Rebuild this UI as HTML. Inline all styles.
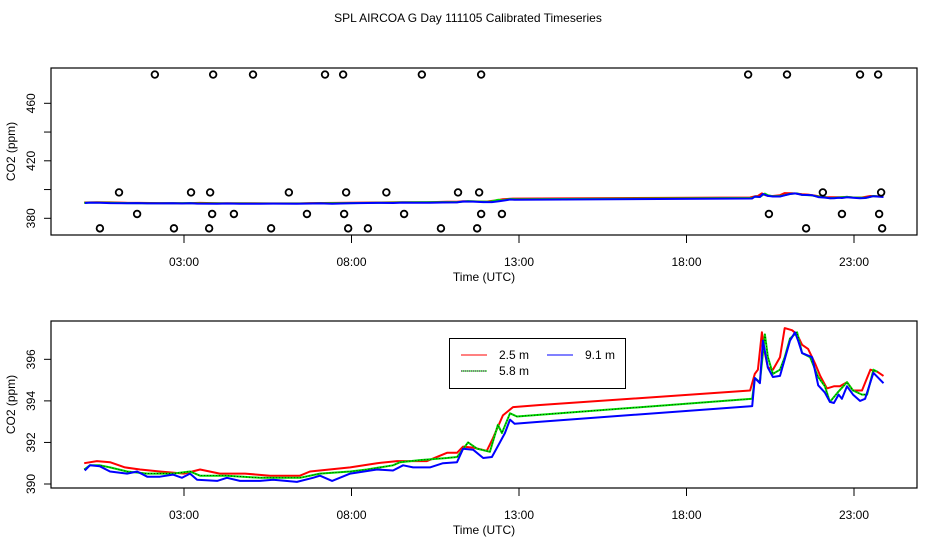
<!DOCTYPE html>
<html><head><meta charset="utf-8"><style>
body{margin:0;background:#fff}
svg{display:block;font-family:"Liberation Sans",sans-serif}
</style></head><body>
<svg id="c" width="936" height="540" viewBox="0 0 936 540">
<text x="468" y="22" text-anchor="middle" font-size="12">SPL AIRCOA G  Day 111105  Calibrated Timeseries</text>
<g id="top"></g>
<g id="bot"></g>
</svg>
<script>
const tickHours=[3,8,13,18,23];
const tickLabels=["03:00","08:00","13:00","18:00","23:00"];
const topTicks=[380,400,420,440,460];
const topTickLabels=["380","","420","","460"];
const botTicks=[390,392,394,396];
const botTickLabels=["390","392","394","396"];
const redT=[0.02,0.40,0.79,1.24,1.69,2.28,3.00,3.48,4.07,4.82,5.57,6.16,6.46,6.76,7.96,8.76,9.36,10.25,10.85,11.15,11.33,11.63,12.04,12.22,12.52,12.82,13.63,19.90,20.04,20.13,20.25,20.34,20.43,20.58,20.79,20.93,21.15,21.30,21.45,21.63,21.84,21.99,22.19,22.40,22.58,22.79,22.97,23.24,23.49,23.70,23.88];
const redV=[391.0,391.1,391.05,390.8,390.7,390.6,390.5,390.7,390.5,390.5,390.4,390.4,390.4,390.6,390.8,391.0,391.1,391.1,391.5,391.5,391.8,391.75,391.6,392.2,393.3,393.7,393.8,394.5,395.3,395.5,397.3,396.3,395.6,395.5,396.1,397.5,397.4,397.2,396.7,396.5,395.8,395.2,394.6,394.7,394.7,394.9,394.5,394.5,395.5,395.4,395.2];
const greenT=[0.02,0.19,0.49,0.79,1.30,1.90,2.67,3.18,3.48,4.28,5.27,5.66,6.46,7.06,7.96,8.46,9.24,9.45,10.04,10.85,11.15,11.48,11.75,12.13,12.37,12.49,12.73,12.94,19.96,20.04,20.19,20.34,20.43,20.58,20.79,20.93,21.09,21.30,21.45,21.69,21.93,22.13,22.28,22.51,22.79,22.97,23.24,23.39,23.58,23.70];
const greenV=[390.7,390.9,390.9,390.8,390.6,390.5,390.5,390.6,390.4,390.4,390.3,390.3,390.3,390.5,390.6,390.7,390.9,391.05,391.15,391.25,391.3,392.0,391.7,391.55,392.85,392.45,393.4,393.25,394.1,395.1,394.9,397.2,396.1,395.3,395.5,396.1,397.0,397.3,396.3,396.1,395.15,394.7,393.95,394.4,394.9,394.5,394.3,394.3,395.5,395.4];
const blueT=[0.04,0.19,0.49,0.79,1.30,1.60,1.90,2.28,2.67,2.94,3.18,3.39,3.99,4.28,4.67,5.27,5.66,6.37,6.85,7.06,7.42,7.96,8.76,9.24,9.54,9.84,10.34,10.73,11.15,11.33,11.63,11.93,12.19,12.43,12.58,12.73,12.87,13.63,19.96,20.04,20.19,20.28,20.43,20.58,20.79,20.93,21.09,21.24,21.33,21.45,21.60,21.75,21.93,22.13,22.28,22.40,22.54,22.64,22.79,22.97,23.18,23.33,23.58,23.88];
const blueV=[390.65,390.9,390.85,390.6,390.5,390.6,390.35,390.35,390.45,390.3,390.5,390.2,390.15,390.3,390.15,390.15,390.2,390.1,390.3,390.4,390.15,390.5,390.7,390.65,390.9,390.8,390.8,391.0,391.05,391.7,391.65,391.25,391.3,392.0,392.45,393.1,392.9,393.0,393.75,395.1,394.85,396.9,395.6,395.15,395.2,396.0,396.9,397.3,396.9,396.3,396.2,396.1,394.75,394.4,393.95,393.9,394.3,394.1,394.7,394.3,394.0,394.1,395.35,394.85];
const flagT=[2.13,3.87,5.06,7.21,7.75,10.10,11.87,19.84,21.00,23.18,23.72,1.06,3.21,3.78,6.13,7.84,9.04,11.18,11.81,22.07,23.81,1.60,3.84,4.49,6.67,7.78,9.57,11.87,12.49,20.46,22.64,23.75,0.49,2.70,3.75,5.60,7.90,8.49,10.67,11.75,21.57,23.84];
const flagV=[480,480,480,480,480,480,480,480,480,480,480,398,398,398,398,398,398,398,398,398,398,383,383,383,383,383,383,383,383,383,383,383,373,373,373,373,373,373,373,373,373,373];

const NS="http://www.w3.org/2000/svg";
function mk(parent,tag,attrs){const e=document.createElementNS(NS,tag);for(const k in attrs)e.setAttribute(k,attrs[k]);parent.appendChild(e);return e;}
const xS=h=>83.5+33.5*h;
const yTop=v=>218.3-(v-380)*1.4375;
const yBot=v=>484-(v-390)*20.78;

function panel(g,top,bottom,ys,ticks,labels,xlabY,name){
  const box=mk(g,'rect',{x:51,y:top,width:866,height:bottom-top,fill:'none',stroke:'#000','stroke-width':1.2});
  
  
  tickHours.forEach((h,i)=>{
    const t=mk(g,'line',{x1:xS(h),x2:xS(h),y1:bottom,y2:bottom+8,stroke:'#000'});
    
    
    const l=mk(g,'text',{x:xS(h),y:bottom+31,'text-anchor':'middle','font-size':12});
    l.textContent=tickLabels[i];
    
    
  });
  ticks.forEach((v,i)=>{
    const y=ys(v);
    const t=mk(g,'line',{x1:44,x2:51,y1:y,y2:y,stroke:'#000'});
    
    
    if(labels[i]){
      const l=mk(g,'text',{x:0,y:0,'text-anchor':'middle','font-size':12,transform:`translate(35,${y}) rotate(-90)`});
      l.textContent=labels[i];
      
      
    }
  });
  const xl=mk(g,'text',{x:484,y:xlabY,'text-anchor':'middle','font-size':12});
  xl.textContent='Time (UTC)';
  
  
  const yl=mk(g,'text',{x:0,y:0,'text-anchor':'middle','font-size':12,transform:`translate(15,${(top+bottom)/2}) rotate(-90)`});
  yl.textContent='CO2 (ppm)';
  
  
}
function series(g,T,V,ys,color,name,dotted){
  const d=T.map((t,i)=>(i?'L':'M')+xS(t).toFixed(1)+','+ys(V[i]).toFixed(1)).join('');
  const p=mk(g,'path',{d:d,fill:'none',stroke:color,'stroke-width':2,'stroke-linejoin':'round'});
  
  
  if(dotted){
    const q=mk(g,'path',{d:d,fill:'none',stroke:'#000','stroke-width':0.7,'stroke-dasharray':'1 2'});
    
    
  }
}
const gt=document.getElementById('top'), gb=document.getElementById('bot');
panel(gt,68,235,yTop,topTicks,topTickLabels,281,'top');
panel(gb,321,488,yBot,botTicks,botTickLabels,534,'bottom');
series(gt,redT,redV,yTop,'#ff0000','top-line-2.5m',false);
series(gt,greenT,greenV,yTop,'#00dd00','top-line-5.8m',false);
series(gt,blueT,blueV,yTop,'#0000ff','top-line-9.1m',false);
flagT.forEach((t,i)=>{
  const c=mk(gt,'circle',{cx:xS(t),cy:yTop(flagV[i]),r:3.3,fill:'none',stroke:'#000','stroke-width':1.8});
  
  
});
series(gb,redT,redV,yBot,'#ff0000','line-2.5m',false);
series(gb,greenT,greenV,yBot,'#00dd00','line-5.8m',true);
series(gb,blueT,blueV,yBot,'#0000ff','line-9.1m',false);
// legend
const lg=mk(gb,'g',{});


const lb=mk(lg,'rect',{x:449.5,y:338.5,width:176,height:50,fill:'#fff',stroke:'#000','stroke-width':1});


const entries=[['#ff0000',461,355,'2.5 m',false],['#0000ff',547,355,'9.1 m',false],['#00dd00',461,371,'5.8 m',true]];
entries.forEach(e=>{
  const l=mk(lg,'line',{x1:e[1],x2:e[1]+26,y1:e[2],y2:e[2],stroke:e[0],'stroke-width':1});
  
  
  if(e[4]){const d=mk(lg,'line',{x1:e[1],x2:e[1]+26,y1:e[2],y2:e[2],stroke:'#000','stroke-width':1,'stroke-dasharray':'1 1'});
    
    }
  const t=mk(lg,'text',{x:e[1]+38,y:e[2]+4,'font-size':12});
  t.textContent=e[3];
  
  
});
</script>
</body></html>
